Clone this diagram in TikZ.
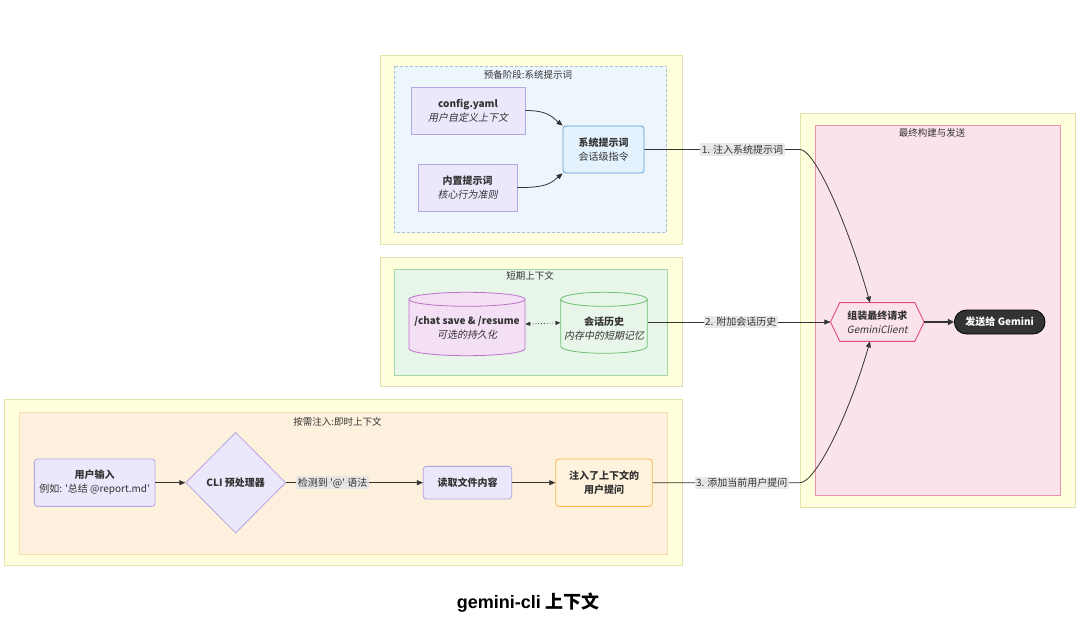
\documentclass[tikz,border=0pt]{standalone}
\usepackage{fontspec}
\setmainfont{Noto Sans CJK SC}[ItalicFont={Noto Sans CJK SC},ItalicFeatures={FakeSlant=0.2}]
\newfontfamily\titlefont{Liberation Sans}
\usetikzlibrary{shapes.geometric,shapes.misc,arrows.meta}
\definecolor{ylwfill}{HTML}{FFFFDE}
\definecolor{ylwdraw}{HTML}{E3E3AC}
\definecolor{bluefill}{HTML}{EDF5FD}
\definecolor{bluedash}{HTML}{A9C0D3}
\definecolor{greenfill}{HTML}{E8F5E9}
\definecolor{greendraw}{HTML}{A5D6A7}
\definecolor{orgfill}{HTML}{FDF0DD}
\definecolor{orgdraw}{HTML}{F8DEAE}
\definecolor{pinkfill}{HTML}{FBE3EA}
\definecolor{pinkdraw}{HTML}{E993B0}
\definecolor{lavfill}{HTML}{ECE8FC}
\definecolor{lavdraw}{HTML}{B4A6E0}
\definecolor{sysfill}{HTML}{E3F2FD}
\definecolor{sysdraw}{HTML}{5B9FD6}
\definecolor{chatfill}{HTML}{F3E0F5}
\definecolor{chatdraw}{HTML}{BE6FCB}
\definecolor{histdraw}{HTML}{6CC070}
\definecolor{askfill}{HTML}{FFF3DE}
\definecolor{askdraw}{HTML}{F8BC50}
\definecolor{hexdraw}{HTML}{E24C82}
\definecolor{ink}{HTML}{333333}
\definecolor{lblbg}{HTML}{E6E6E6}
\pgfdeclarelayer{bg}
\pgfdeclarelayer{mid}
\pgfsetlayers{bg,mid,main}
\begin{document}
\begin{tikzpicture}[x=1pt,y=-1pt,
  font=\fontsize{10}{14}\selectfont, text=ink,
  outerbox/.style={fill=ylwfill,draw=ylwdraw,line width=0.8pt},
  ctitle/.style={font=\fontsize{9.5}{12}\selectfont,inner sep=0pt},
  lavbox/.style={draw=lavdraw,fill=lavfill,line width=0.8pt,align=center,inner sep=0pt},
  ghost/.style={inner sep=0pt},
  txt/.style={align=center,inner sep=0pt},
  arr/.style={draw=ink,line width=0.8pt,-{Triangle[length=6pt,width=5pt]}},
  elabel/.style={fill=lblbg,fill opacity=0.9,text opacity=1,inner sep=1.5pt,font=\fontsize{10}{12}\selectfont},
]
\useasboundingbox (0,0) rectangle (1080,621);
\begin{pgfonlayer}{bg}
\fill[white] (0,0) rectangle (1080,621);
% cluster 1
\draw[outerbox] (380.7,55.3) rectangle (682,244.7);
\draw[fill=bluefill,draw=bluedash,dashed,line width=0.8pt,dash pattern=on 3pt off 2pt] (394,66) rectangle (666.7,232.7);
% cluster 2
\draw[outerbox] (380.7,257) rectangle (682,386.7);
\draw[fill=greenfill,draw=greendraw,line width=0.8pt] (394.7,269) rectangle (667,375);
% cluster 3
\draw[outerbox] (4.7,399.7) rectangle (682.3,565.7);
\draw[fill=orgfill,draw=orgdraw,line width=0.8pt] (19.3,412) rectangle (667.7,554);
% cluster 4
\draw[outerbox] (800.7,113.3) rectangle (1075.7,507.3);
\draw[fill=pinkfill,draw=pinkdraw,line width=0.8pt] (815.3,125.3) rectangle (1060.7,495);
\end{pgfonlayer}

% cluster titles
\node[ctitle] (t1) at (528,74.7) {预备阶段:系统提示词};
\node[ctitle] (t2) at (530,276) {短期上下文};
\node[ctitle] (t3) at (337.5,422.3) {按需注入:即时上下文};
\node[ctitle] (t4) at (932,132.7) {最终构建与发送};

% cluster 1 nodes
\node[lavbox,minimum width=114,minimum height=47] (cfg) at (468,110.5)
  {{\bfseries config.yaml}\\{\itshape 用户自定义上下文}};
\node[lavbox,minimum width=99,minimum height=47] (builtin) at (467.5,187.5)
  {{\bfseries 内置提示词}\\{\itshape 核心行为准则}};
\node[draw=sysdraw,fill=sysfill,line width=0.8pt,rounded corners=3pt,align=center,inner sep=0pt,
  minimum width=81,minimum height=47] (sys) at (603.5,149.5)
  {{\bfseries 系统提示词}\\会话级指令};

% cluster 2 nodes (cylinders)
\node[ghost,minimum width=116,minimum height=63.4] (chatcyl) at (467,324) {};
\node[ghost,minimum width=86.6,minimum height=61] (histcyl) at (604,322.8) {};
\begin{pgfonlayer}{mid}
\draw[fill=chatfill,draw=chatdraw,line width=0.8pt] (409,299.3) -- (409,348.7)
  arc[start angle=180,end angle=0,x radius=58,y radius=7] -- (525,299.3)
  arc[start angle=0,end angle=-180,x radius=58,y radius=7] -- cycle;
\draw[draw=chatdraw,line width=0.8pt] (409,299.3) arc[start angle=180,end angle=0,x radius=58,y radius=7];
\draw[fill=greenfill,draw=histdraw,line width=0.8pt] (560.7,299.3) -- (560.7,346.3)
  arc[start angle=180,end angle=0,x radius=43.3,y radius=7] -- (647.3,299.3)
  arc[start angle=0,end angle=-180,x radius=43.3,y radius=7] -- cycle;
\draw[draw=histdraw,line width=0.8pt] (560.7,299.3) arc[start angle=180,end angle=0,x radius=43.3,y radius=7];
\end{pgfonlayer}
\node[txt] (chat) at (467,328.2) {{\bfseries /chat save \& /resume}\\{\itshape 可选的持久化}};
\node[txt] (hist) at (604,328.3) {{\bfseries 会话历史}\\{\itshape 内存中的短期记忆}};

% cluster 3 nodes
\node[lavbox,rounded corners=3pt,minimum width=120.7,minimum height=47.3] (user) at (94.7,482.7)
  {{\bfseries 用户输入}\\例如: \textquotesingle 总结 @report.md\textquotesingle};
\node[diamond,aspect=1,draw=lavdraw,fill=lavfill,line width=0.8pt,inner sep=0pt,
  minimum width=100,minimum height=100.7] (cli) at (235.7,482.7) {\bfseries CLI 预处理器};
\node[lavbox,rounded corners=3pt,minimum width=88.4,minimum height=32.7] (read) at (467.5,482.7)
  {\bfseries 读取文件内容};
\node[draw=askdraw,fill=askfill,line width=0.8pt,rounded corners=3pt,align=center,inner sep=0pt,
  minimum width=96.6,minimum height=47.3] (ask) at (604,482.7)
  {\bfseries 注入了上下文的\\\bfseries 用户提问};

% cluster 4 nodes
\node[txt,minimum width=93.3,minimum height=38.3] (asm) at (877.3,322)
  {{\bfseries 组装最终请求}\\{\itshape GeminiClient}};
\begin{pgfonlayer}{mid}
\draw[fill=pinkfill,draw=hexdraw,line width=0.9pt] (asm.west) -- ([xshift=9.3pt]asm.north west)
  -- ([xshift=-9.3pt]asm.north east) -- (asm.east) -- ([xshift=-9.3pt]asm.south east)
  -- ([xshift=9.3pt]asm.south west) -- cycle;
\end{pgfonlayer}
\node[rounded rectangle,fill=ink,draw=black,line width=0.8pt,text=white,inner sep=0pt,
  minimum width=90.7,minimum height=24] (send) at (999.7,322) {\bfseries 发送给 Gemini};

% connectors inside clusters
\draw[arr] (cfg.east) .. controls (548,110.5) and (552,117) .. (sys.north west);
\draw[arr] (builtin.east) .. controls (548,188) and (552,182) .. (sys.south west);
\draw[draw=ink,line width=0.8pt,dotted,{Triangle[length=5pt,width=4pt]}-{Triangle[length=5pt,width=4pt]}]
  (chatcyl.east) -- (histcyl.west);
\draw[arr] (user.east) -- (cli.west);
\draw[arr] (cli.east) -- node[elabel,pos=0.34]{检测到 \textquotesingle @\textquotesingle\ 语法} (read.west);
\draw[arr] (read.east) -- (ask.west);

% connectors to final stage
\coordinate (c1) at (800,149.5);
\coordinate (c3) at (800,482.7);
\draw[arr] (sys.east) -- node[elabel,pos=0.63]{1. 注入系统提示词} (c1)
  .. controls (815,149.5) and (848,225) .. ([xshift=-7.3pt]asm.north);
\draw[arr] (histcyl.east |- asm.west) -- node[elabel,pos=0.51]{2. 附加会话历史} (asm.west);
\draw[arr] (ask.east) -- node[elabel,pos=0.605]{3. 添加当前用户提问} (c3)
  .. controls (815,482.7) and (848,418) .. ([xshift=-7.3pt]asm.south);
\draw[draw=ink,line width=2pt,-{Triangle[length=6pt,width=6pt]}] (asm.east) -- (send.west);

% main title
\node[anchor=west,inner sep=0pt,font=\fontsize{18}{20}\selectfont,text=black] (title) at (456.7,602.3)
  {{\titlefont\bfseries gemini-cli }{\bfseries 上下文}};
\end{tikzpicture}
\end{document}
